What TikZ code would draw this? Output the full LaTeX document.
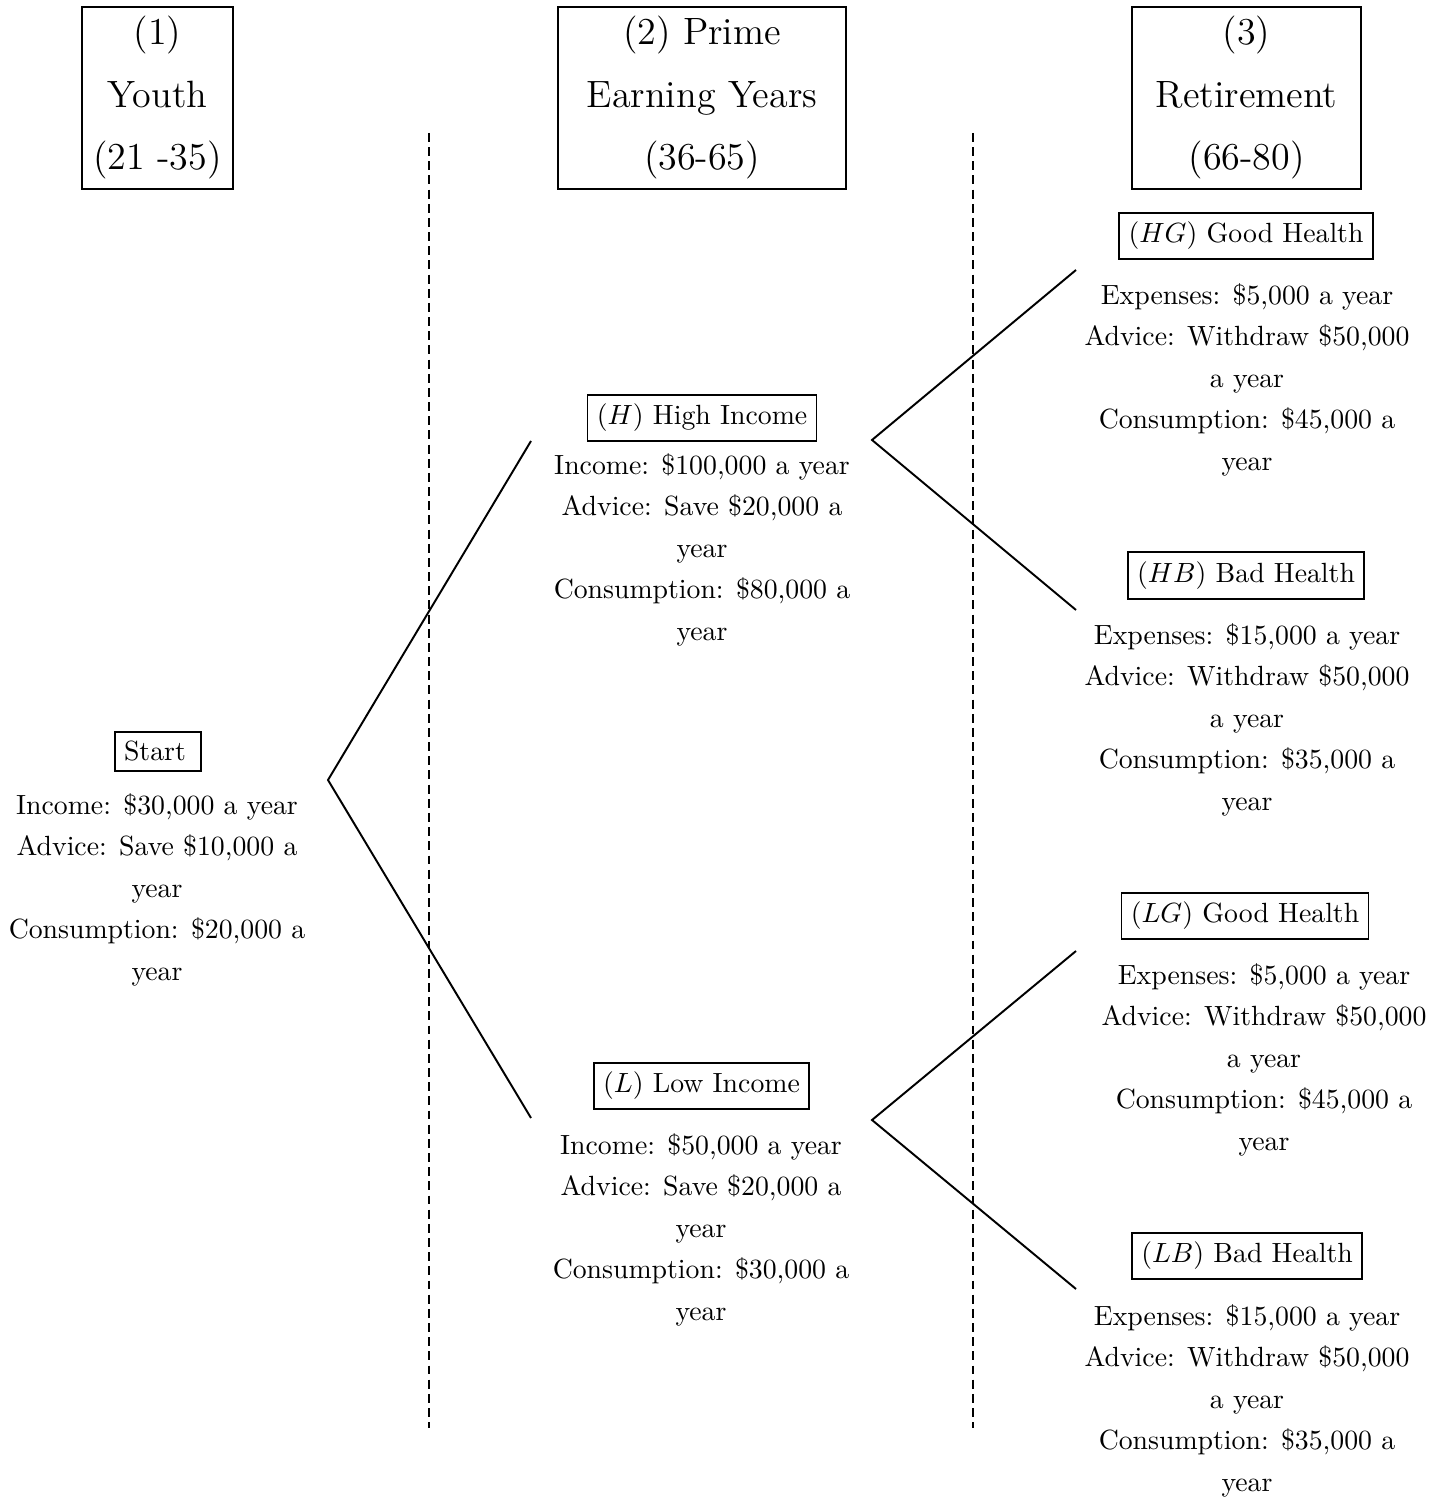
\documentclass[tikz,border=0pt]{standalone}
\begin{document}
\begin{tikzpicture}[x=0.36pt,y=-0.36pt,
  hdr/.style={draw, line width=0.75pt, align=center, font=\fontsize{13.7}{22.5}\selectfont, inner sep=0pt, minimum height=65.5pt},
  lbl/.style={draw, line width=0.65pt, font=\fontsize{10}{12}\selectfont, inner sep=3.33pt},
  info/.style={align=center, anchor=north, inner sep=0pt, font=\fontsize{10}{14.94}\selectfont},
  sep/.style={line width=0.45pt, dash pattern=on 3.2pt off 1.9pt},
  branch/.style={line width=0.7pt}]
\useasboundingbox (0,0) rectangle (1447,1499);

% period headers
\node[hdr, minimum width=54.4pt] (h1) at (157.5,98) {(1)\\Youth\\(21 -35)};
\node[hdr, minimum width=103.7pt] (h2) at (702,98) {(2) Prime\\Earning Years\\(36-65)};
\node[hdr, minimum width=82.4pt] (h3) at (1246.5,98) {(3)\\Retirement\\(66-80)};

% separators
\coordinate (d1t) at (429,133);
\coordinate (d1b) at (429,1428);
\coordinate (d2t) at (973,133);
\coordinate (d2b) at (973,1428);
\draw[sep] (d1t) -- (d1b);
\draw[sep] (d2t) -- (d2b);

% state labels
\node[lbl] (start) at (158,751.5) {Start\kern2.2pt};
\node[lbl] (H) at (702,418) {$(H)$ High Income};
\node[lbl] (L) at (701.5,1086) {$(L)$ Low Income};
\node[lbl] (HG) at (1246,236) {$(HG)$ Good Health};
\node[lbl] (HB) at (1246,575.5) {$(HB)$ Bad Health};
\node[lbl] (LG) at (1245,916) {$(LG)$ Good Health};
\node[lbl] (LB) at (1247,1256) {$(LB)$ Bad Health};

% info texts
\node[info] (startinfo) at (157,793) {Income: \$30,000 a year\\Advice: Save \$10,000 a\\year\\Consumption: \$20,000 a\\year};
\node[info] (Hinfo) at (702,453) {Income: \$100,000 a year\\Advice: Save \$20,000 a\\year\\Consumption: \$80,000 a\\year};
\node[info] (Linfo) at (701,1133) {Income: \$50,000 a year\\Advice: Save \$20,000 a\\year\\Consumption: \$30,000 a\\year};
\node[info] (HGinfo) at (1247,283) {Expenses: \$5,000 a year\\Advice: Withdraw \$50,000\\a year\\Consumption: \$45,000 a\\year};
\node[info] (HBinfo) at (1247,623) {Expenses: \$15,000 a year\\Advice: Withdraw \$50,000\\a year\\Consumption: \$35,000 a\\year};
\node[info] (LGinfo) at (1264,963) {Expenses: \$5,000 a year\\Advice: Withdraw \$50,000\\a year\\Consumption: \$45,000 a\\year};
\node[info] (LBinfo) at (1247,1304) {Expenses: \$15,000 a year\\Advice: Withdraw \$50,000\\a year\\Consumption: \$35,000 a\\year};

% branch points
\coordinate (s) at (328,780);
\coordinate (hin) at (531,441);
\coordinate (lin) at (531,1118);
\coordinate (hout) at (872,440);
\coordinate (hgin) at (1076,270);
\coordinate (hbin) at (1076,610);
\coordinate (lout) at (872,1120);
\coordinate (lgin) at (1076,951);
\coordinate (lbin) at (1076,1289);

\draw[branch] (hin) -- (s) -- (lin);
\draw[branch] (hgin) -- (hout) -- (hbin);
\draw[branch] (lgin) -- (lout) -- (lbin);
\end{tikzpicture}
\end{document}
